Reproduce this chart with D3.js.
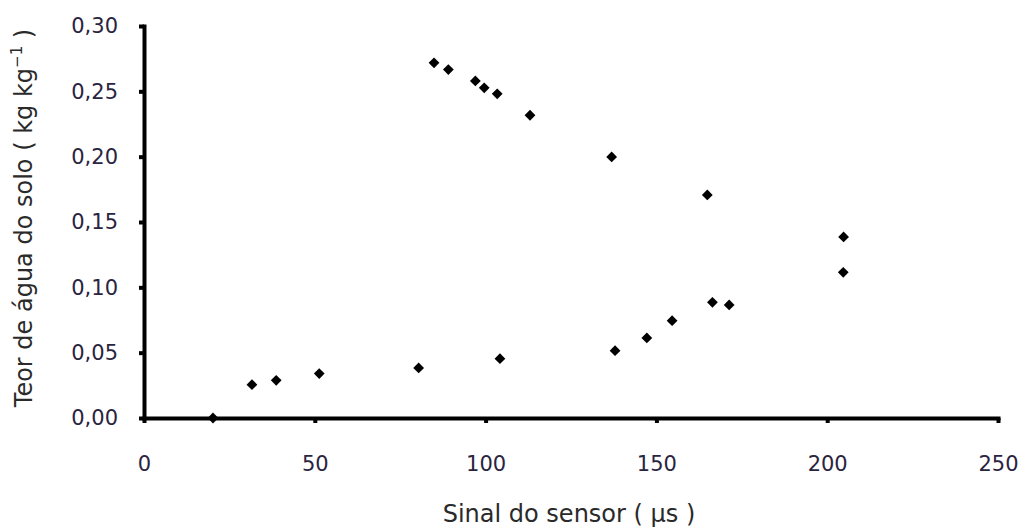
<!DOCTYPE html>
<html>
<head>
<meta charset="utf-8">
<script src="https://cdn.jsdelivr.net/npm/d3@7"></script>
<style>
  body { margin: 0; background: #fff; }
  svg { display: block; }
  text { font-family: "DejaVu Sans", sans-serif; }
</style>
</head>
<body>
<svg id="chart"></svg>
<script>
const width = 1032;
const height = 531;

// sensor signal (µs) vs soil water content (kg/kg)
const sinal = [20.2, 31.6, 38.7, 51.3, 80.4, 104.2, 137.9, 147.2, 154.6, 166.4, 171.3, 204.7,
  204.8, 164.9, 136.9, 113.0, 103.4, 99.6, 97.0, 89.1, 84.9];
const teor = [0.000, 0.0255, 0.0288, 0.034, 0.0383, 0.0454, 0.0515, 0.0613, 0.0745, 0.0885, 0.0865, 0.1115,
  0.1386, 0.1707, 0.1998, 0.2317, 0.2481, 0.2527, 0.2580, 0.2667, 0.2718];
const xTicks = [0, 50, 100, 150, 200, 250];
const yTicks = [0, 0.05, 0.10, 0.15, 0.20, 0.25, 0.30];

const x = d3.scaleLinear().domain([0, 250]).range([144, 998]);
const y = d3.scaleLinear().domain([0, 0.30]).range([418, 26]);

const svg = d3.select('#chart')
  .attr('width', width)
  .attr('height', height);

const data = sinal.map((s, i) => ({ s: s, t: teor[i] }));

// points first, so the axis covers the one at zero
svg.append('g')
  .selectAll('path')
  .data(data)
  .join('path')
  .attr('d', d3.symbol(d3.symbolSquare, 58))
  .attr('transform', (d) => `translate(${x(d.s)},${y(d.t)}) rotate(45)`)
  .attr('fill', '#000');

const fmt = (v) => v.toFixed(2).replace('.', ',');

const gy = svg.append('g')
  .attr('transform', `translate(${x(0)},0)`)
  .call(d3.axisLeft(y).tickValues(yTicks).tickFormat(fmt).tickSize(5).tickSizeOuter(0).tickPadding(21));

const gx = svg.append('g')
  .attr('transform', `translate(0,${y(0)})`)
  .call(d3.axisBottom(x).tickValues(xTicks).tickFormat(d3.format('d')).tickSize(5).tickSizeOuter(0).tickPadding(33));

[gy, gx].forEach((g) => {
  g.select('.domain').attr('stroke', '#000').attr('stroke-width', 4).attr('stroke-linecap', 'square');
  g.selectAll('.tick line').attr('stroke', '#000').attr('stroke-width', 4);
  g.selectAll('.tick text')
    .attr('fill', '#2a2440')
    .style('font-size', '21px');
});

svg.append('text')
  .attr('x', 569)
  .attr('y', 522)
  .attr('text-anchor', 'middle')
  .attr('fill', '#2a2a2a')
  .style('font-size', '24px')
  .text('Sinal do sensor ( µs )');

const yt = svg.append('text')
  .attr('transform', 'translate(32,218) rotate(-90)')
  .attr('text-anchor', 'middle')
  .attr('fill', '#2a2a2a')
  .style('font-size', '24px');
yt.append('tspan').text('Teor de água do solo ( kg kg');
yt.append('tspan').attr('dy', -10).style('font-size', '15px').text('−1');
yt.append('tspan').attr('dy', 10).text(' )');
</script>
</body>
</html>
